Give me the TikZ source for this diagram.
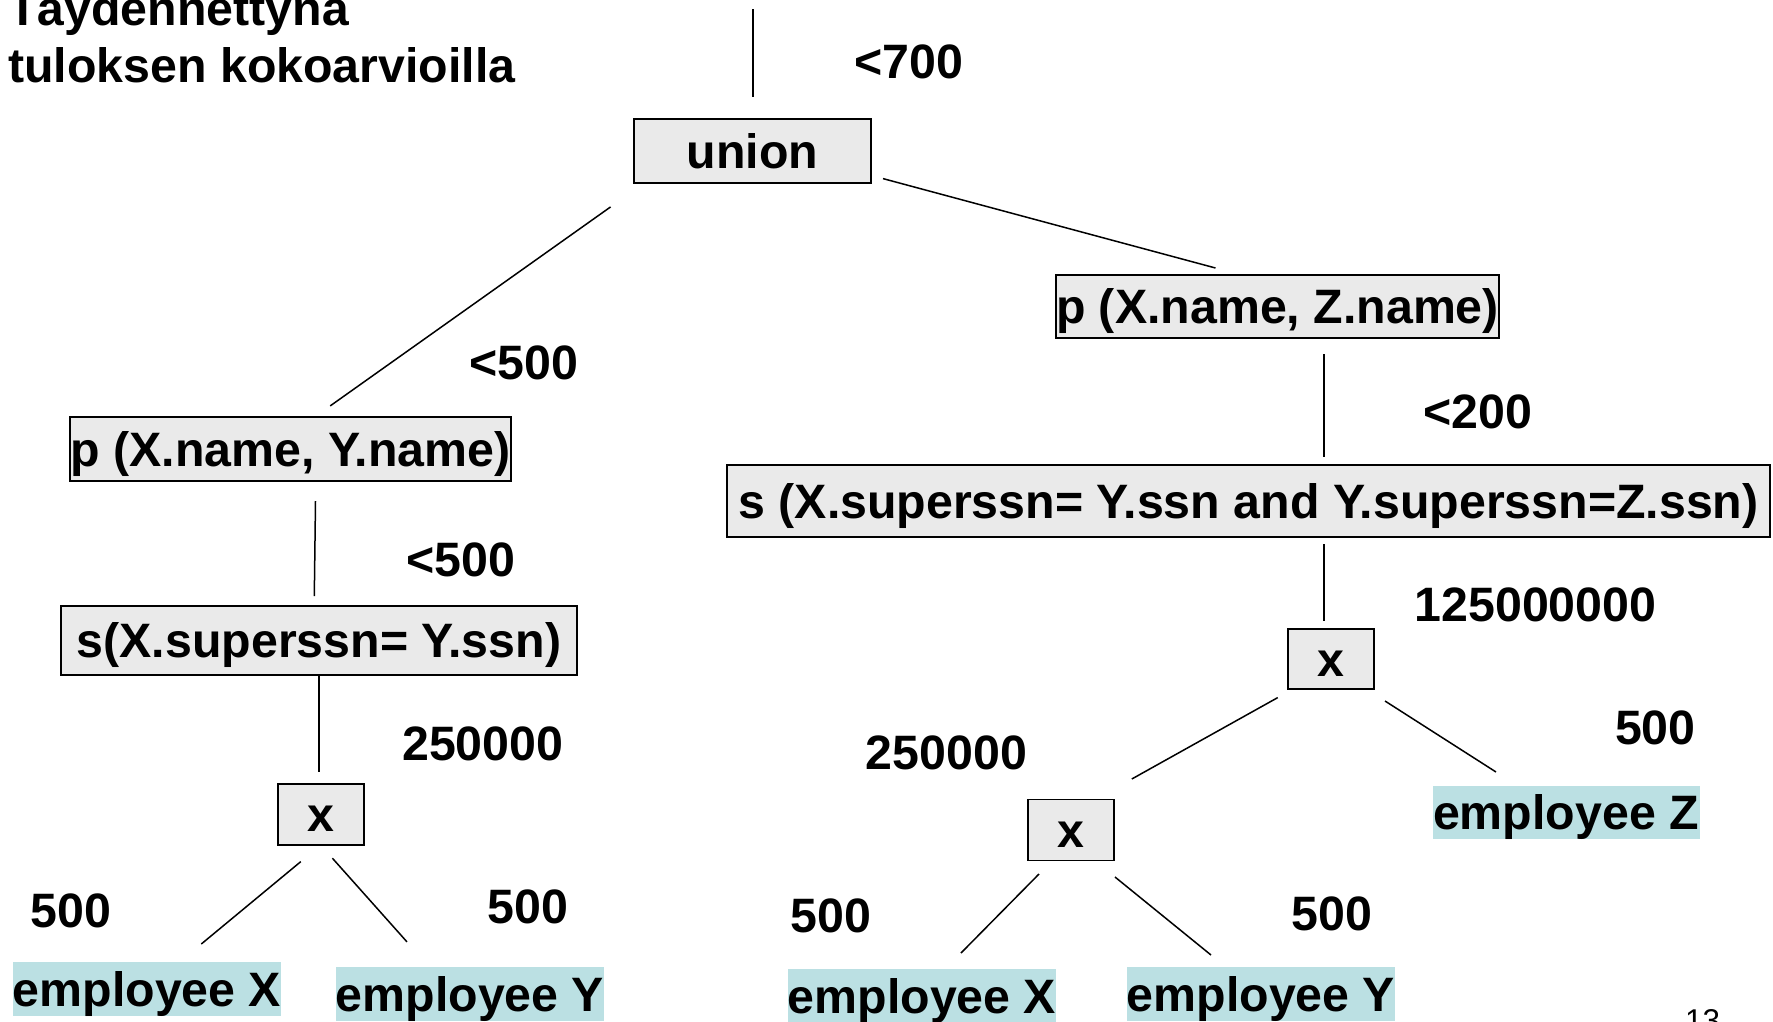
\documentclass[tikz,border=0pt]{standalone}
\usepackage{fontspec}
\setmainfont{Liberation Sans}
\definecolor{opgray}{HTML}{EAEAEA}
\definecolor{relcyan}{HTML}{BBE0E3}
\begin{document}
\begin{tikzpicture}[x=1pt,y=-1pt,
  every node/.style={inner sep=0pt, font=\fontsize{48.3}{57}\selectfont\bfseries},
  opbox/.style={draw=black, line width=1.6pt, fill=opgray, text height=34pt, text depth=0pt},
  relbox/.style={fill=relcyan, text height=34pt, text depth=0pt},
  edge/.style={line width=1.5pt},
  est/.style={anchor=center}]
\useasboundingbox (0,0) rectangle (1773,1021);

% heading
\node[anchor=base west, font=\fontsize{48.3}{57}\selectfont\bfseries] (h1) at (8,25) {Täydennettynä};
\node[anchor=base west, font=\fontsize{48.3}{57}\selectfont\bfseries] (h2) at (8,82) {tuloksen kokoarvioilla};

% operator boxes
\node[opbox, minimum width=237pt, minimum height=64pt] (union) at (752.5,151) {union};
\node[opbox, minimum width=441pt, minimum height=63pt] (pZ) at (1277.5,306.5) {p (X.name, Z.name)};
\node[opbox, minimum width=1043pt, minimum height=72pt] (sR) at (1248.5,501) {s (X.superssn= Y.ssn and Y.superssn=Z.ssn)};
\node[opbox, minimum width=441pt, minimum height=64pt] (pY) at (290.5,449) {p (X.name, Y.name)};
\node[opbox, minimum width=516pt, minimum height=69pt] (sL) at (319,640.5) {s(X.superssn= Y.ssn)};
\node[opbox, minimum width=86pt, minimum height=61pt] (xL) at (321,814.5) {x};
\node[opbox, minimum width=86pt, minimum height=60pt] (xT) at (1331,659) {x};
\node[opbox, minimum width=86pt, minimum height=61pt] (xB) at (1071,830) {x};

% relations
\node[relbox, minimum width=266pt, minimum height=54pt] (eXL) at (147,989) {employee X};
\node[relbox, minimum width=266pt, minimum height=54pt] (eYL) at (470,994) {employee Y};
\node[relbox, minimum width=266pt, minimum height=54pt] (eXR) at (922,996) {employee X};
\node[relbox, minimum width=266pt, minimum height=54pt] (eYR) at (1261,994) {employee Y};
\node[relbox, minimum width=267pt, minimum height=53pt] (eZ) at (1566,812.5) {employee Z};

% size estimates
\node[est] (n700) at (909,62) {<700};
\node[est] (n500a) at (523.5,363) {<500};
\node[est] (n200) at (1478,411.6) {<200};
\node[est] (n500b) at (461,560) {<500};
\node[est] (n125) at (1535.5,605) {125000000};
\node[est] (n250L) at (482.8,744) {250000};
\node[est] (n250R) at (946.4,753) {250000};
\node[est] (n500Z) at (1655.4,728) {500};
\node[est] (n500XL) at (71.2,911) {500};
\node[est] (n500YL) at (528,907) {500};
\node[est] (n500XR) at (831,916) {500};
\node[est] (n500YR) at (1332,913.6) {500};

% page number
\node[anchor=north west, font=\fontsize{31.5}{38}\selectfont] (pg) at (1685,1009) {13};

% connector end points
\coordinate (c0a) at (753,9);     \coordinate (c0b) at (753,97);
\coordinate (c1a) at (610.6,206.9); \coordinate (c1b) at (330.2,405.9);
\coordinate (c2a) at (883,178.6); \coordinate (c2b) at (1215.5,268);
\coordinate (c3a) at (1324,354);  \coordinate (c3b) at (1324,457);
\coordinate (c4a) at (315.5,501); \coordinate (c4b) at (314.3,596);
\coordinate (c5a) at (318.9,676); \coordinate (c5b) at (318.9,772);
\coordinate (c6a) at (300.8,861.6); \coordinate (c6b) at (201.3,944);
\coordinate (c7a) at (332.4,858.2); \coordinate (c7b) at (407,941.9);
\coordinate (c8a) at (1324,544);  \coordinate (c8b) at (1324,621);
\coordinate (c9a) at (1277.7,697.6); \coordinate (c9b) at (1131.8,779);
\coordinate (c10a) at (1385,701); \coordinate (c10b) at (1496,772);
\coordinate (c11a) at (1039,874); \coordinate (c11b) at (961,953);
\coordinate (c12a) at (1115,877); \coordinate (c12b) at (1211,955);

\draw[edge] (c0a) -- (c0b);
\draw[edge] (c1a) -- (c1b);
\draw[edge] (c2a) -- (c2b);
\draw[edge] (c3a) -- (c3b);
\draw[edge] (c4a) -- (c4b);
\draw[edge] (c5a) -- (c5b);
\draw[edge] (c6a) -- (c6b);
\draw[edge] (c7a) -- (c7b);
\draw[edge] (c8a) -- (c8b);
\draw[edge] (c9a) -- (c9b);
\draw[edge] (c10a) -- (c10b);
\draw[edge] (c11a) -- (c11b);
\draw[edge] (c12a) -- (c12b);
\end{tikzpicture}
\end{document}
